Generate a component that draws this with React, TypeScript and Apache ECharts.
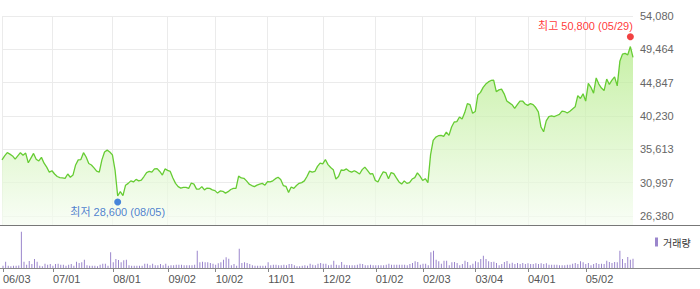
import React, { useEffect, useRef } from "react";
import * as echarts from "echarts";

// Trading months and the trading days of each month (KRX calendar)
const months = [
  "2024-06", "2024-07", "2024-08", "2024-09", "2024-10", "2024-11",
  "2024-12", "2025-01", "2025-02", "2025-03", "2025-04", "2025-05",
];
const monthDays: number[][] = [
  [3, 4, 5, 7, 10, 11, 12, 13, 14, 17, 18, 19, 20, 21, 24, 25, 26, 27, 28],
  [1, 2, 3, 4, 5, 8, 9, 10, 11, 12, 15, 16, 17, 18, 19, 22, 23, 24, 25, 26, 29, 30, 31],
  [1, 2, 5, 6, 7, 8, 9, 12, 13, 14, 16, 19, 20, 21, 22, 23, 26, 27, 28, 29, 30],
  [2, 3, 4, 5, 6, 9, 10, 11, 12, 13, 19, 20, 23, 24, 25, 26, 27, 30],
  [2, 4, 7, 8, 10, 11, 14, 15, 16, 17, 18, 21, 22, 23, 24, 25, 28, 29, 30, 31],
  [1, 4, 5, 6, 7, 8, 11, 12, 13, 14, 15, 18, 19, 20, 21, 22, 25, 26, 27, 28, 29],
  [2, 3, 4, 5, 6, 9, 10, 11, 12, 13, 16, 17, 18, 19, 20, 23, 24, 26, 27, 30],
  [2, 3, 6, 7, 8, 9, 10, 13, 14, 15, 16, 17, 20, 21, 22, 23, 24, 31],
  [3, 4, 5, 6, 7, 10, 11, 12, 13, 14, 17, 18, 19, 20, 21, 24, 25, 26, 27, 28],
  [4, 5, 6, 7, 10, 11, 12, 13, 14, 17, 18, 19, 20, 21, 24, 25, 26, 27, 28, 31],
  [1, 2, 3, 4, 7, 8, 9, 10, 11, 14, 15, 16, 17, 18, 21, 22, 23, 24, 25, 28, 29, 30],
  [2, 7, 8, 9, 12, 13, 14, 15, 16, 19, 20, 21, 22, 23, 26, 27, 28, 29, 30],
];

// Closing prices (won)
const closePrices = [
  34150, 34700, 35150, 34950, 34700, 34250, 34700, 35150, 34800, 35100,
  33750, 34400, 35050, 34250, 34000, 34500, 33700, 33150, 32450, 32650,
  32200, 31850, 31700, 31650, 31600, 32200, 31750, 32050, 33450, 34150,
  34200, 35150, 34550, 33650, 33450, 33050, 32600, 32450, 34150, 35250,
  35500, 35250, 34850, 32750, 29150, 29750, 29200, 30650, 30900, 31250,
  31100, 31450, 31250, 31350, 31850, 32400, 32550, 32450, 32900, 32950,
  32550, 32050, 32900, 32700, 32550, 31650, 30900, 30450, 30250, 30350,
  30350, 30200, 30950, 30800, 30100, 30100, 30450, 30000, 30250, 30200,
  30000, 29900, 29550, 29850, 29800, 29550, 29750, 30050, 30200, 30200,
  31900, 31650, 31600, 31250, 30800, 30600, 30450, 30650, 30800, 30900,
  30650, 31150, 31100, 31250, 31550, 31750, 31450, 30600, 30500, 29650,
  30400, 30200, 30600, 30900, 31000, 31250, 31850, 32600, 32450, 32550,
  33250, 33700, 33600, 34200, 33500, 33100, 32800, 31500, 31850, 32750,
  32700, 32900, 32600, 32450, 32650, 32450, 32200, 32800, 33150, 32700,
  32200, 32250, 31300, 31100, 31850, 32500, 32400, 31550, 32400, 32250,
  31650, 31100, 30800, 31250, 30900, 31000, 31500, 31700, 32350, 31900,
  31300, 31550, 31000, 34850, 36850, 37300, 37500, 37550, 37400, 38000,
  37550, 38700, 39400, 39450, 40100, 39800, 40700, 41950, 41800, 40600,
  40850, 43150, 43500, 44200, 44650, 44950, 45150, 45200, 43600, 43850,
  43950, 43300, 42300, 42050, 41800, 41300, 41800, 42300, 42300, 41900,
  41700, 41950, 41800, 41400, 40800, 38700, 38050, 39550, 40150, 40250,
  40150, 40300, 40450, 40900, 40850, 40650, 40900, 41200, 41500, 43050,
  42650, 43300, 42300, 44750, 44200, 43400, 45500, 44650, 44100, 43750,
  45350, 44600, 45200, 45650, 44400, 47800, 48800, 48900, 48700, 49850,
  48350,
];

// Trading volume (thousand shares)
const volumes = [
  230, 630, 230, 170, 230, 230, 250, 3630, 630, 330,
  700, 400, 900, 630, 230, 170, 430, 330, 400, 230,
  400, 430, 330, 330, 230, 330, 400, 230, 630, 500,
  570, 830, 270, 230, 230, 230, 170, 330, 430, 430,
  230, 1570, 570, 900, 800, 570, 770, 830, 270, 230,
  230, 230, 230, 230, 430, 430, 270, 430, 270, 270,
  400, 270, 430, 230, 270, 270, 330, 330, 330, 270,
  270, 270, 270, 330, 1730, 570, 630, 570, 570, 500,
  430, 330, 470, 570, 830, 1070, 930, 270, 400, 230,
  1930, 500, 570, 500, 400, 270, 230, 230, 230, 230,
  230, 570, 270, 330, 330, 270, 270, 330, 270, 400,
  400, 270, 170, 170, 230, 270, 230, 430, 330, 270,
  430, 500, 430, 430, 270, 330, 730, 330, 270, 600,
  330, 300, 270, 270, 270, 330, 430, 400, 270, 270,
  330, 270, 270, 270, 270, 270, 330, 430, 330, 330,
  330, 330, 330, 330, 270, 400, 500, 670, 600, 330,
  430, 430, 270, 1570, 1730, 830, 670, 430, 730, 730,
  270, 570, 600, 500, 270, 400, 730, 600, 270, 430,
  670, 570, 900, 1230, 900, 670, 600, 630, 500, 270,
  400, 600, 700, 430, 530, 400, 500, 400, 500, 400,
  470, 400, 400, 470, 400, 470, 400, 470, 330, 330,
  330, 330, 270, 270, 270, 330, 330, 430, 500, 400,
  670, 570, 400, 500, 270, 400, 500, 400, 430, 400,
  730, 600, 500, 600, 570, 1730, 900, 500, 1100, 830,
  930,
];

// Price axis tick labels
const yTicks = [26380, 30997, 35613, 40230, 44847, 49464, 54080];

const highDate = "2025-05-29";
const highValue = 50800;
const highLabel = "최고 50,800 (05/29)";
const lowDate = "2024-08-05";
const lowValue = 28600;
const lowLabel = "최저 28,600 (08/05)";
const volumeName = "거래량";

const categories: string[] = months.flatMap((m, i) =>
  monthDays[i].map((d) => `${m}-${String(d).padStart(2, "0")}`)
);
const monthStarts = new Set<number>();
categories.forEach((c, i) => {
  if (i === 0 || categories[i - 1].slice(0, 7) !== c.slice(0, 7)) monthStarts.add(i);
});
const isMonthStart = (i: number) => monthStarts.has(i);

const FONT = "'Liberation Sans', Arial, 'Noto Sans CJK KR', sans-serif";

export default function App() {
  const ref = useRef<HTMLDivElement>(null);
  useEffect(() => {
    if (!ref.current) return;
    const chart = echarts.init(ref.current, undefined, { renderer: "svg" });
    const option: any = {
      animation: false,
      textStyle: { fontFamily: FONT },
      grid: [
        { left: 2, right: 67, top: 16, height: 209 },
        { left: 2, right: 67, top: 226, height: 42 },
      ],
      xAxis: [
        {
          type: "category",
          gridIndex: 0,
          data: categories,
          boundaryGap: false,
          axisLine: { show: false },
          axisTick: { show: false },
          axisLabel: { show: false },
          splitLine: {
            show: true,
            interval: (i: number) => isMonthStart(i),
            lineStyle: { color: "#ebebeb", width: 1 },
          },
        },
        {
          type: "category",
          gridIndex: 1,
          data: categories,
          boundaryGap: false,
          axisLine: { show: false },
          axisTick: {
            show: true,
            interval: (i: number) => isMonthStart(i),
            length: 4,
            lineStyle: { color: "#888" },
          },
          axisLabel: {
            interval: (i: number) => isMonthStart(i),
            formatter: (v: string) => v.slice(5).replace("-", "/"),
            align: "left",
            margin: 5,
            fontSize: 11,
            color: "#555",
          },
          splitLine: { show: false },
        },
      ],
      yAxis: [
        {
          type: "value",
          gridIndex: 0,
          position: "right",
          min: 25135,
          max: 54080,
          axisLine: { show: false },
          axisTick: { show: false, customValues: yTicks },
          axisLabel: {
            customValues: yTicks,
            formatter: (v: number) => Math.round(v).toLocaleString("en-US"),
            fontSize: 11,
            color: "#666",
            margin: 7,
          },
          splitLine: { show: true, lineStyle: { color: "#ebebeb" } },
        },
        { type: "value", gridIndex: 1, min: 0, max: 4200, show: false },
      ],
      legend: {
        data: [{ name: volumeName, icon: "rect" }],
        left: 650,
        top: 232,
        itemWidth: 3,
        itemHeight: 9,
        selectedMode: false,
        textStyle: {
          fontSize: 10,
          color: "#333",
          fontFamily: "'Noto Sans CJK KR', sans-serif",
        },
      },
      series: [
        {
          type: "line",
          name: "종가",
          xAxisIndex: 0,
          yAxisIndex: 0,
          data: closePrices,
          symbol: "none",
          lineStyle: { color: "#66cc33", width: 1.3 },
          areaStyle: {
            origin: "start",
            color: new echarts.graphic.LinearGradient(0, 0, 0, 1, [
              { offset: 0, color: "#b0ea82" },
              { offset: 1, color: "#f6fdf2" },
            ]),
          },
          z: 2,
        },
        {
          type: "bar",
          name: volumeName,
          xAxisIndex: 1,
          yAxisIndex: 1,
          data: volumes,
          barWidth: 1,
          itemStyle: { color: "#9b86cc" },
        },
        {
          type: "scatter",
          name: "high",
          xAxisIndex: 0,
          yAxisIndex: 0,
          data: [[highDate, highValue]],
          symbolSize: 7,
          symbolOffset: [0, -3],
          itemStyle: { color: "#ee1111" },
          silent: true,
          z: 5,
          label: {
            show: true,
            formatter: highLabel,
            position: [6, -7],
            align: "right",
            verticalAlign: "middle",
            color: "#ff0000",
            fontSize: 11,
          },
        },
        {
          type: "scatter",
          name: "low",
          xAxisIndex: 0,
          yAxisIndex: 0,
          data: [[lowDate, lowValue]],
          symbolSize: 7,
          symbolOffset: [0, 2],
          itemStyle: { color: "#1a66d6" },
          silent: true,
          z: 5,
          label: {
            show: true,
            formatter: lowLabel,
            position: "bottom",
            distance: 1,
            color: "#1d5fc5",
            fontSize: 11,
          },
        },
      ],
      graphic: [
        {
          type: "line",
          shape: { x1: 0, y1: 225.5, x2: 700, y2: 225.5 },
          style: { stroke: "#777", lineWidth: 1 },
          z: 10,
        },
        {
          type: "line",
          shape: { x1: 0, y1: 268.5, x2: 700, y2: 268.5 },
          style: { stroke: "#888", lineWidth: 1 },
          z: 10,
        },
      ],
    };
    chart.setOption(option);
    return () => chart.dispose();
  }, []);
  return (
    <div
      ref={ref}
      style={{ position: "absolute", left: 0, top: 0, width: 700, height: 289 }}
    />
  );
}
